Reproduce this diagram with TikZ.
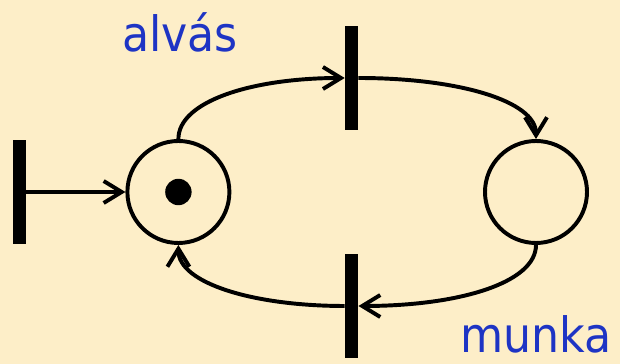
\documentclass[tikz,border=0pt]{standalone}
\usepackage{fontspec}
\setmainfont{DejaVu Sans}
\usepackage{tikz}
\usetikzlibrary{arrows.meta}
\definecolor{bgcol}{RGB}{253,238,200}
\definecolor{lblcol}{RGB}{30,52,196}

\begin{document}
\begin{tikzpicture}[
    placenode/.style={circle, draw=black, line width=2.8pt, minimum size=2.55cm, inner sep=0pt},
    transbar/.style={rectangle, fill=black, minimum width=0.33cm, minimum height=2.6cm, inner sep=0pt},
    tokendot/.style={circle, fill=black, minimum size=0.66cm, inner sep=0pt},
    flow/.style={line width=2.8pt, -{Straight Barb[length=4.5mm,width=5.5mm]}},
    lbl/.style={text=lblcol, font=\fontsize{34.6}{40}\selectfont, xscale=0.91, anchor=base, inner sep=0pt}
  ]
    % background
    \fill[bgcol] (0,0) rectangle (15.5,9.1);
    \useasboundingbox (0,0) rectangle (15.5,9.1);
    % places
    \node[placenode] (p1) at (4.46,4.30) {};
    \node[tokendot] (tok) at (p1) {};
    \node[placenode] (p2) at (13.40,4.30) {};
    % transitions
    \node[transbar] (t0) at (0.49,4.30) {};
    \node[transbar] (t1) at (8.79,7.15) {};
    \node[transbar] (t2) at (8.79,1.45) {};
    % labels
    \node[lbl] (lalvas) at (4.50,7.80) {alvás};
    \node[lbl] (lmunka) at (13.40,0.28) {munka};
    % arcs
    \draw[flow] (t0.east) -- (p1.west);
    \draw[flow] (p1.north) .. controls +(0,0.95) and +(-2.3,0) .. (t1.west);
    \draw[flow] (t1.east) .. controls +(2.5,0) and +(0,0.95) .. (p2.north);
    \draw[flow] (p2.south) .. controls +(0,-0.95) and +(2.5,0) .. (t2.east);
    \draw[flow] (t2.west) .. controls +(-2.3,0) and +(0,-0.95) .. (p1.south);
  \end{tikzpicture}
\end{document}
